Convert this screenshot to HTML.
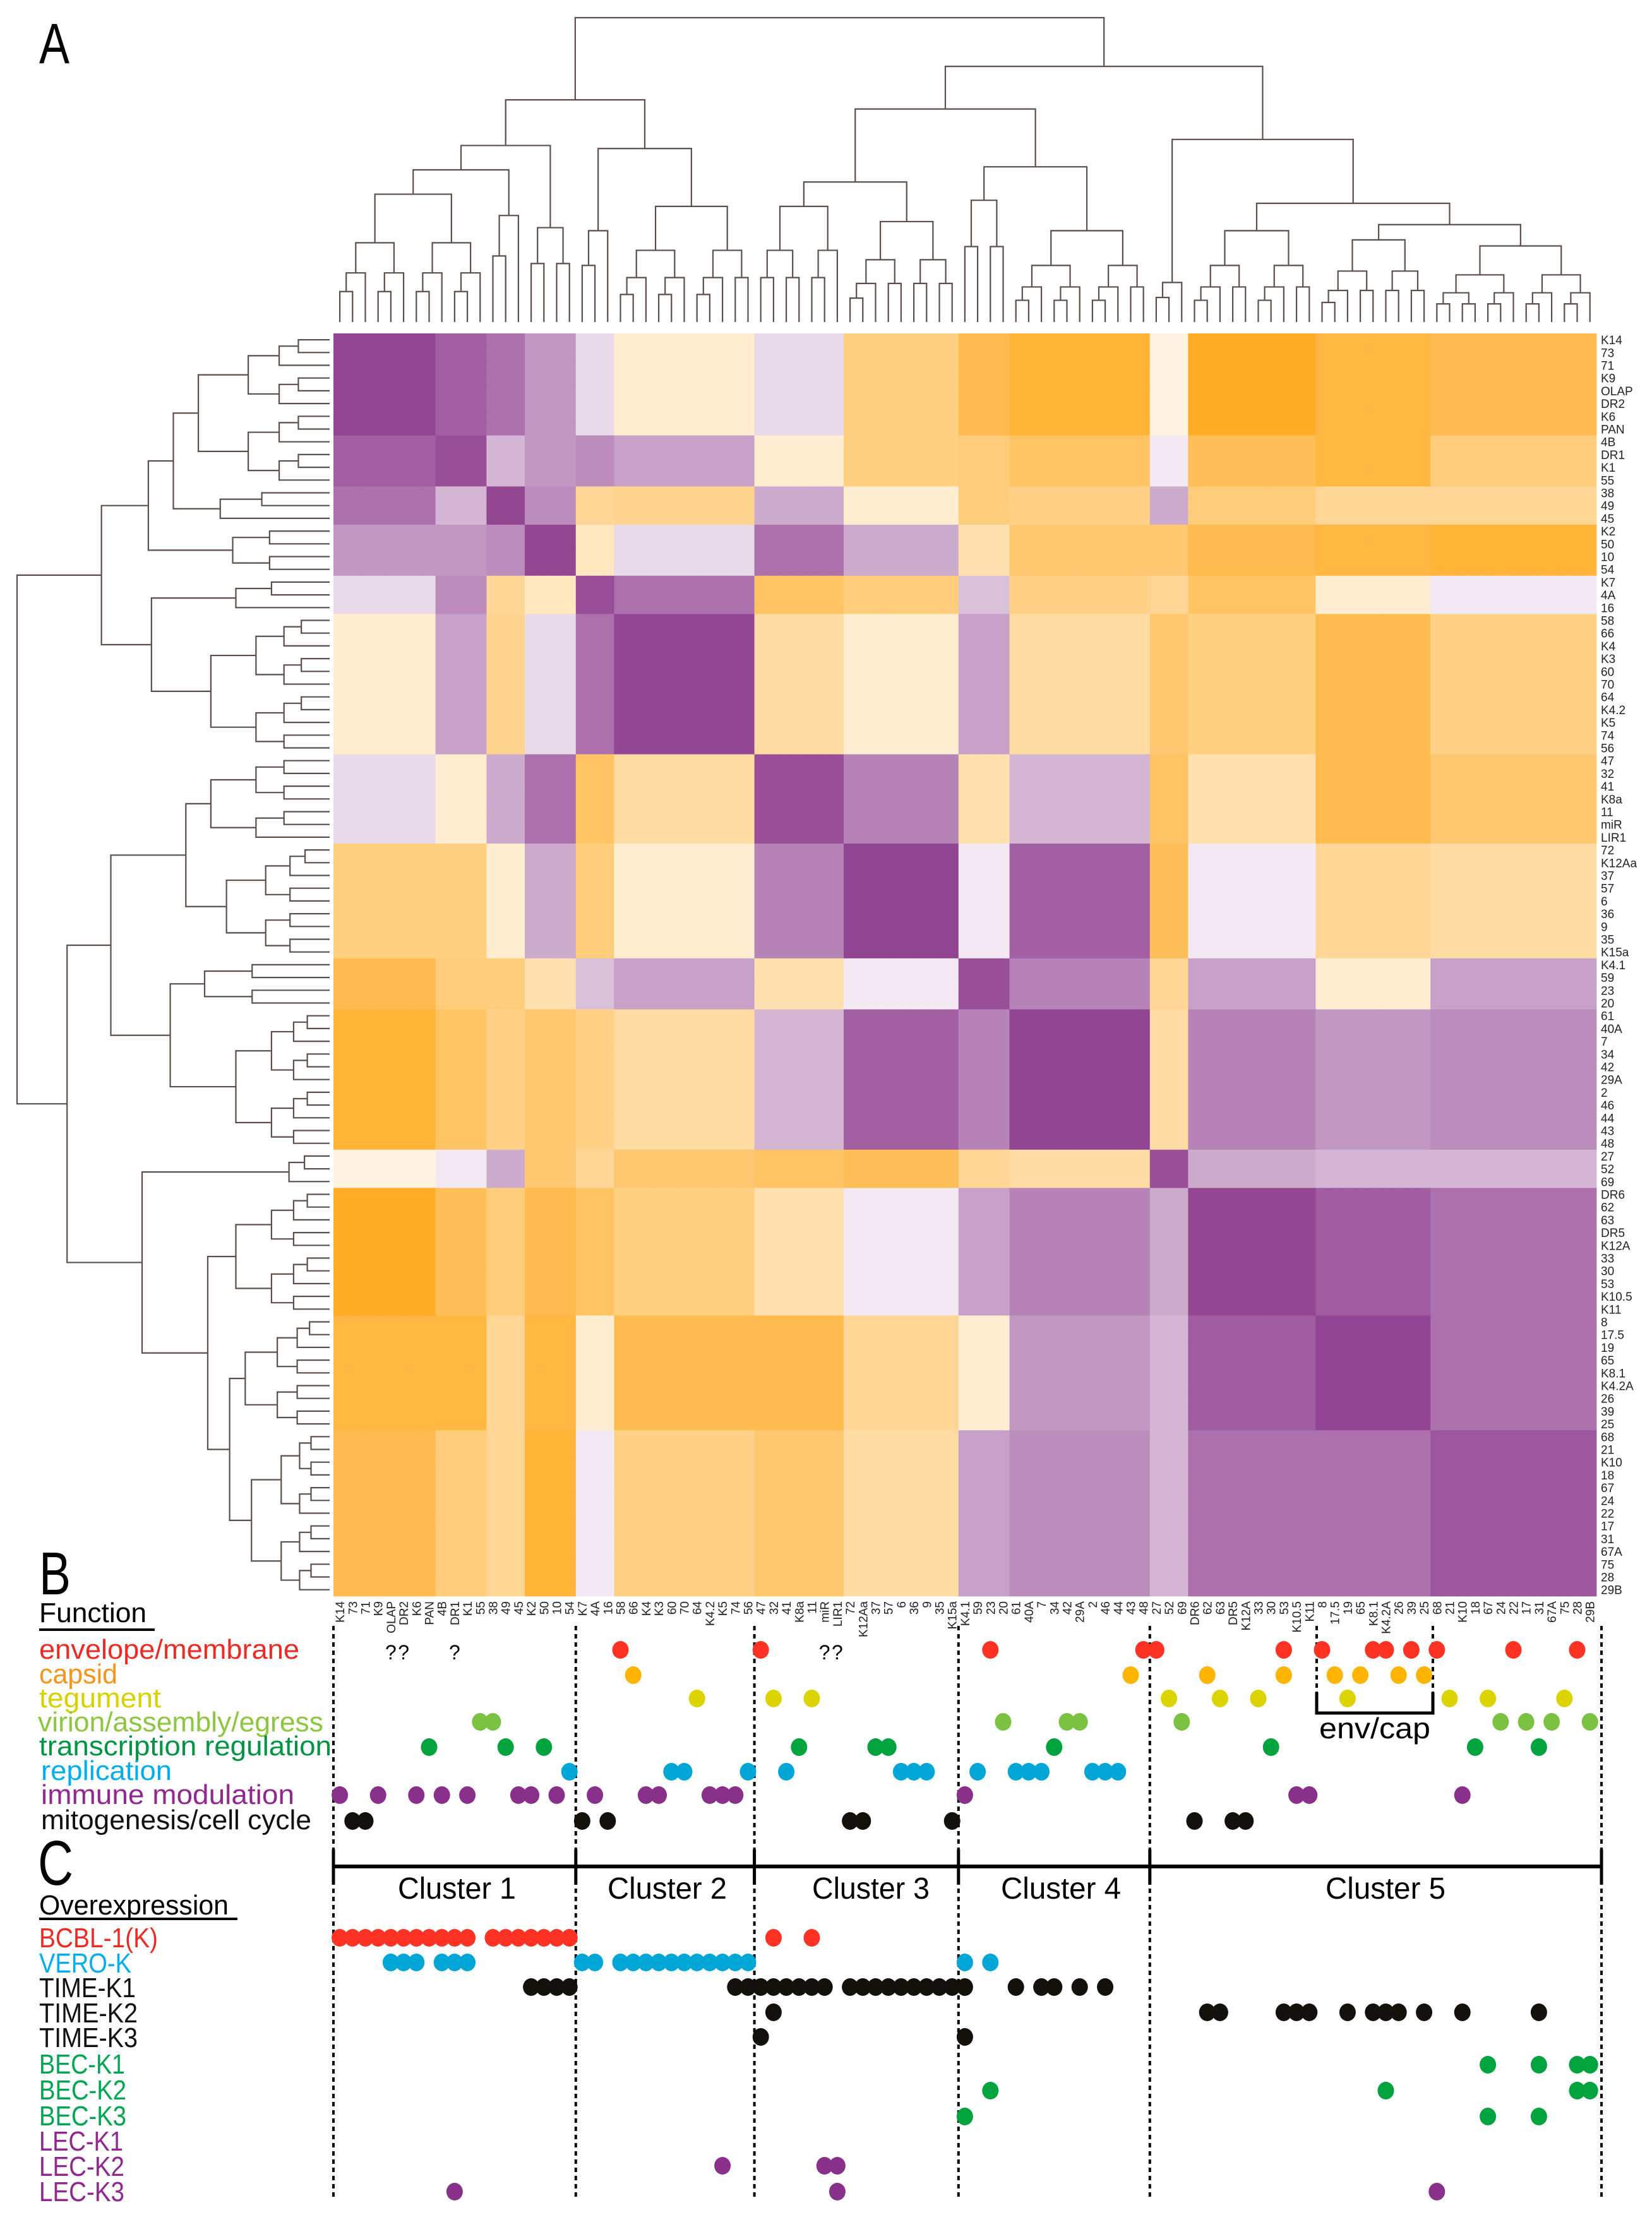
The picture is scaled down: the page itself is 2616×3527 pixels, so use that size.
<!DOCTYPE html>
<html><head><meta charset="utf-8"><title>KSHV gene correlation heatmap</title>
<style>
html,body{margin:0;padding:0;background:#fff;}
svg{display:block;}
text{font-family:"Liberation Sans",Arial,sans-serif;}
.nar{font-family:"Liberation Sans Narrow","Liberation Sans",sans-serif;}
</style></head>
<body>
<svg id="fig" xmlns="http://www.w3.org/2000/svg" width="2616" height="3527" viewBox="0 0 2616 3527">
  <rect x="0" y="0" width="2616" height="3527" fill="#fff"/>
  <text x="62" y="100" font-size="90" textLength="48" lengthAdjust="spacingAndGlyphs" class="nar">A</text>
  <g id="topDendro"></g>
  <g id="leftDendro"></g>
  <g id="heat"></g>
  <g id="rowLabels"></g>
  <g id="colLabels"></g>

  <text x="62" y="2525" font-size="96" textLength="50" lengthAdjust="spacingAndGlyphs" class="nar">B</text>
  <text x="62" y="2569" font-size="44" textLength="170" lengthAdjust="spacingAndGlyphs" class="nar">Function</text>
  <rect x="62" y="2579" width="183" height="4" fill="#000"/>
  <g class="nar" font-size="44">
    <text x="62" y="2627" fill="#ee2a24" textLength="412" lengthAdjust="spacingAndGlyphs">envelope/membrane</text>
    <text x="62" y="2666" fill="#f7941d" textLength="124" lengthAdjust="spacingAndGlyphs">capsid</text>
    <text x="62" y="2704" fill="#d7d100" textLength="193" lengthAdjust="spacingAndGlyphs">tegument</text>
    <text x="60" y="2742" fill="#8dc63f" textLength="452" lengthAdjust="spacingAndGlyphs">virion/assembly/egress</text>
    <text x="62" y="2780" fill="#009444" textLength="463" lengthAdjust="spacingAndGlyphs">transcription regulation</text>
    <text x="65" y="2819" fill="#00aeef" textLength="207" lengthAdjust="spacingAndGlyphs">replication</text>
    <text x="65" y="2857" fill="#92278f" textLength="401" lengthAdjust="spacingAndGlyphs">immune modulation</text>
    <text x="65" y="2897" fill="#111" textLength="428" lengthAdjust="spacingAndGlyphs">mitogenesis/cell cycle</text>
  </g>

  <text x="60" y="2985" font-size="100" textLength="56" lengthAdjust="spacingAndGlyphs" class="nar">C</text>
  <text x="62" y="3032" font-size="44" textLength="300" lengthAdjust="spacingAndGlyphs" class="nar">Overexpression</text>
  <rect x="62" y="3037" width="314" height="4" fill="#000"/>
  <g class="nar" font-size="44">
    <text x="62" y="3084" fill="#ee2a24" textLength="188" lengthAdjust="spacingAndGlyphs">BCBL-1(K)</text>
    <text x="62" y="3124" fill="#00aeef" textLength="146" lengthAdjust="spacingAndGlyphs">VERO-K</text>
    <text x="62" y="3163" fill="#111" textLength="153" lengthAdjust="spacingAndGlyphs">TIME-K1</text>
    <text x="62" y="3203" fill="#111" textLength="156" lengthAdjust="spacingAndGlyphs">TIME-K2</text>
    <text x="62" y="3242" fill="#111" textLength="156" lengthAdjust="spacingAndGlyphs">TIME-K3</text>
    <text x="62" y="3284" fill="#00a651" textLength="136" lengthAdjust="spacingAndGlyphs">BEC-K1</text>
    <text x="62" y="3325" fill="#00a651" textLength="138" lengthAdjust="spacingAndGlyphs">BEC-K2</text>
    <text x="62" y="3366" fill="#00a651" textLength="138" lengthAdjust="spacingAndGlyphs">BEC-K3</text>
    <text x="62" y="3406" fill="#92278f" textLength="133" lengthAdjust="spacingAndGlyphs">LEC-K1</text>
    <text x="62" y="3446" fill="#92278f" textLength="135" lengthAdjust="spacingAndGlyphs">LEC-K2</text>
    <text x="62" y="3486" fill="#92278f" textLength="135" lengthAdjust="spacingAndGlyphs">LEC-K3</text>
  </g>

  <g id="guides"></g>
  <g id="clusterAxis">
    <text x="630" y="3007" font-size="48" textLength="187" lengthAdjust="spacingAndGlyphs" class="nar">Cluster 1</text>
    <text x="962" y="3007" font-size="48" textLength="189" lengthAdjust="spacingAndGlyphs" class="nar">Cluster 2</text>
    <text x="1286" y="3007" font-size="48" textLength="186" lengthAdjust="spacingAndGlyphs" class="nar">Cluster 3</text>
    <text x="1585" y="3007" font-size="48" textLength="190" lengthAdjust="spacingAndGlyphs" class="nar">Cluster 4</text>
    <text x="2099" y="3007" font-size="48" textLength="190" lengthAdjust="spacingAndGlyphs" class="nar">Cluster 5</text>
  </g>
  <g>
    <line x1="2085" y1="2575" x2="2085" y2="2680" stroke="#000" stroke-width="4" stroke-dasharray="7,6"/>
    <line x1="2269" y1="2575" x2="2269" y2="2680" stroke="#000" stroke-width="4" stroke-dasharray="7,6"/>
    <polyline points="2085,2680 2085,2713 2269,2713 2269,2680" fill="none" stroke="#000" stroke-width="5"/>
    <text x="2089" y="2753" font-size="46" textLength="176" lengthAdjust="spacingAndGlyphs" class="nar">env/cap</text>
  </g>
  <g id="qmarks" class="nar" font-size="32"></g>
  <g id="funcDots"></g>
  <g id="overDots"></g>
</svg>
<script>
// ---------- data ----------
const genes = ["K14","73","71","K9","OLAP","DR2","K6","PAN","4B","DR1","K1","55","38","49","45","K2","50","10","54","K7","4A","16","58","66","K4","K3","60","70","64","K4.2","K5","74","56","47","32","41","K8a","11","miR","LIR1","72","K12Aa","37","57","6","36","9","35","K15a","K4.1","59","23","20","61","40A","7","34","42","29A","2","46","44","43","48","27","52","69","DR6","62","63","DR5","K12A","33","30","53","K10.5","K11","8","17.5","19","65","K8.1","K4.2A","26","39","25","68","21","K10","18","67","24","22","17","31","67A","75","28","29B"];
const groupStarts = [0,8,12,15,19,22,33,40,49,53,64,67,77,86];
const blockVals = [
 [0.85,0.7,0.6,0.4,0.1,-0.1,0.1,-0.35,-0.6,-0.6,0.0,-0.75,-0.6,-0.6],
 [0.7,0.8,0.3,0.5,0.4,0.35,-0.2,-0.35,-0.5,-0.5,-0.1,-0.6,-0.6,-0.4],
 [0.6,0.2,0.85,0.4,-0.3,-0.3,0.3,-0.1,-0.4,-0.3,0.3,-0.3,-0.2,-0.3],
 [0.4,0.3,0.5,0.85,-0.2,0.1,0.6,0.3,-0.2,-0.4,-0.4,-0.6,-0.6,-0.7],
 [0.1,0.5,-0.3,-0.1,0.8,0.6,-0.5,-0.4,0.2,-0.4,-0.2,-0.4,0.0,0.1],
 [-0.1,0.35,-0.35,0.1,0.6,0.85,-0.3,-0.1,0.3,-0.2,-0.4,-0.35,-0.6,-0.3],
 [0.1,0.0,0.3,0.6,-0.5,-0.2,0.8,0.5,-0.2,0.2,-0.4,-0.3,-0.6,-0.5],
 [-0.4,-0.4,-0.1,0.3,-0.4,-0.1,0.5,0.9,0.0,0.7,-0.5,-0.1,-0.3,-0.2],
 [-0.6,-0.3,-0.4,-0.2,0.2,0.4,-0.2,0.1,0.8,0.4,-0.4,0.3,-0.1,0.4],
 [-0.8,-0.5,-0.4,-0.5,-0.3,-0.3,0.3,0.7,0.6,0.9,-0.3,0.5,0.4,0.4],
 [-0.1,0.2,0.3,-0.5,-0.4,-0.5,-0.6,-0.6,-0.2,-0.2,0.8,0.3,0.2,0.2],
 [-0.8,-0.5,-0.5,-0.6,-0.6,-0.4,-0.1,0.2,0.4,0.5,0.3,0.85,0.75,0.6],
 [-0.7,-0.7,-0.4,-0.7,-0.2,-0.6,-0.6,-0.3,-0.1,0.4,0.3,0.7,0.95,0.6],
 [-0.6,-0.4,-0.3,-0.7,0.0,-0.4,-0.4,-0.3,0.3,0.5,0.3,0.6,0.6,0.75]
];
// dendrogram topology: [height, left, right]; {r:[a,b],h} = leaf range subtree
const dendroTree = [1.0,
  [0.73, [0.58, [0.50, {r:[0,11],h:0.42}, {r:[12,14],h:0.35}], {r:[15,18],h:0.31}],
         [0.57, {r:[19,21],h:0.30}, {r:[22,32],h:0.38}]],
  [0.84, [0.70, [0.46, {r:[33,39],h:0.38}, {r:[40,48],h:0.33}],
                [0.51, {r:[49,52],h:0.40}, {r:[53,63],h:0.30}]],
         [0.60, {r:[64,66],h:0.13},
                [0.39, {r:[67,76],h:0.30}, [0.32, {r:[77,85],h:0.27}, {r:[86,98],h:0.25}]]]]
];
// function annotations (gene column indices)
const fnEnvelope = [22,33,51,63,64,74,77,81,82,84,86,92,97];
const fnCapsid = [23,62,68,74,78,80,83,85];
const fnTegument = [28,34,37,65,69,72,79,87,90,96];
const fnVirion = [11,12,52,57,58,66,91,93,95,98];
const fnTranscription = [7,13,16,36,42,43,56,73,89,94];
const fnReplication = [18,26,27,32,35,44,45,46,50,53,54,55,59,60,61];
const fnImmune = [0,3,6,8,10,14,15,17,20,24,25,29,30,31,49,75,76,88];
const fnMitogenesis = [1,2,19,21,40,41,48,67,70,71];
const uncertain = [4,5,9,38,39];
// overexpression
const oxBCBL = [0,1,2,3,4,5,6,7,8,9,10,12,13,14,15,16,17,18,34,37];
const oxVERO = [4,5,6,8,9,10,19,20,22,23,24,25,26,27,28,29,30,31,32,49,51];
const oxTIME1 = [15,16,17,18,31,32,33,34,35,36,37,38,40,41,42,43,44,45,46,47,48,49,53,55,56,58,60];
const oxTIME2 = [34,68,69,74,75,76,79,81,82,83,85,88,94];
const oxTIME3 = [33,49];
const oxBEC1 = [90,94,97,98];
const oxBEC2 = [51,82,97,98];
const oxBEC3 = [49,90,94];
const oxLEC1 = [];
const oxLEC2 = [30,38,39];
const oxLEC3 = [9,39,86];
const clusterBounds = [0,19,33,49,64,99];

// ---------- layout ----------
const NS = "http://www.w3.org/2000/svg";
const X0 = 528, Y0 = 528, CW = 20.2;
const colX = i => X0 + CW*(i+0.5);
const rowY = i => Y0 + CW*(i+0.5);
function mk(tag, attrs, parent){ const e=document.createElementNS(NS,tag); for(const k in attrs) e.setAttribute(k,attrs[k]); parent.appendChild(e); return e; }

function grp(i){ let g=0; for(let k=0;k<groupStarts.length;k++) if(i>=groupStarts[k]) g=k; return g; }
function val(i,j){ return (blockVals[grp(i)][grp(j)]+blockVals[grp(j)][grp(i)])/2; }
function color(v){
  let c;
  if(v>=0){ c=[145,68,145]; } else { c=[255,165,20]; v=-v; }
  let t = Math.min(1, Math.pow(Math.min(1, v*1.15), 0.75));
  const r=Math.round(255+(c[0]-255)*t), g=Math.round(255+(c[1]-255)*t), b=Math.round(255+(c[2]-255)*t);
  return `rgb(${r},${g},${b})`;
}

// heatmap
const heat = document.getElementById('heat');
for(let i=0;i<genes.length;i++){
  for(let j=0;j<genes.length;j++){
    const r = mk('rect',{x:(X0+CW*j).toFixed(2), y:(Y0+CW*i).toFixed(2), width:(CW+0.6).toFixed(2), height:(CW+0.6).toFixed(2), fill:color(val(i,j))}, heat);
    
    
  }
}

// labels
const rowL = document.getElementById('rowLabels');
const colL = document.getElementById('colLabels');
genes.forEach((g,i)=>{
  const t = mk('text',{x:2535, y:rowY(i)+7, 'font-size':19, fill:'#222'}, rowL);
  t.textContent = g;
  
  
  const c = mk('text',{transform:`translate(${colX(i)+7},2536) rotate(-90)`, 'text-anchor':'end', 'font-size':19, fill:'#222'}, colL);
  c.textContent = g;
  
  
});

// dendrograms
function expand(n){
  if(typeof n==='number') return n;
  if(Array.isArray(n)) return [n[0], expand(n[1]), expand(n[2])];
  return rangeTree(n.r[0], n.r[1], n.h);
}
function rangeTree(a,b,h){
  if(a===b) return a;
  const m = Math.floor((a+b)/2);
  return [h, rangeTree(a,m,h*0.62), rangeTree(m+1,b,h*0.62)];
}
const tree = expand(dendroTree);
function drawDendro(node, g, orient){
  if(typeof node==='number') return {p:node+0.5, h:0};
  const l = drawDendro(node[1], g, orient), r = drawDendro(node[2], g, orient);
  const h = node[0];
  let pts;
  if(orient==='top'){
    const yf = hh => 510 - hh*482, xf = p => X0 + CW*p;
    pts = `${xf(l.p)},${yf(l.h)} ${xf(l.p)},${yf(h)} ${xf(r.p)},${yf(h)} ${xf(r.p)},${yf(r.h)}`;
  } else {
    const xf = hh => 522 - hh*495, yf = p => Y0 + CW*p;
    pts = `${xf(l.h)},${yf(l.p)} ${xf(h)},${yf(l.p)} ${xf(h)},${yf(r.p)} ${xf(r.h)},${yf(r.p)}`;
  }
  const pl = mk('polyline',{points:pts, fill:'none', stroke:'#5e4e48', 'stroke-width':2.2}, g);
  
  
  return {p:(l.p+r.p)/2, h:h};
}
drawDendro(tree, document.getElementById('topDendro'), 'top');
drawDendro(tree, document.getElementById('leftDendro'), 'left');

// guides
const guides = document.getElementById('guides');
const gx = clusterBounds.map(k => k===99 ? 2536 : X0 + CW*k);
gx.forEach(x=>{
  const l = mk('line',{x1:x, y1:2575, x2:x, y2:3483, stroke:'#000', 'stroke-width':4, 'stroke-dasharray':'7,6'}, guides);
  
  
  const t = mk('line',{x1:x, y1:2929, x2:x, y2:2985, stroke:'#000', 'stroke-width':5}, guides);
  
  
});
const axis = mk('line',{x1:gx[0], y1:2956, x2:gx[gx.length-1], y2:2956, stroke:'#000', 'stroke-width':6}, guides);



// question marks
const qg = document.getElementById('qmarks');
uncertain.forEach(i=>{
  const t = mk('text',{x:colX(i), y:2628, 'text-anchor':'middle'}, qg);
  t.textContent = '?';
  
  
});

// dots
function dots(list, y, col, g, name){
  list.forEach(i=>{
    const c = mk('ellipse',{cx:colX(i), cy:y, rx:13, ry:14, fill:col}, g);
    
    
  });
}
const fd = document.getElementById('funcDots');
dots(fnEnvelope, 2613, '#ff3324', fd, 'envelope-dot');
dots(fnCapsid, 2653, '#ffb400', fd, 'capsid-dot');
dots(fnTegument, 2690, '#dcd400', fd, 'tegument-dot');
dots(fnVirion, 2727, '#7cc242', fd, 'virion-dot');
dots(fnTranscription, 2767, '#00a33e', fd, 'transcription-dot');
dots(fnReplication, 2806, '#00a6d6', fd, 'replication-dot');
dots(fnImmune, 2843, '#88308a', fd, 'immune-dot');
dots(fnMitogenesis, 2884, '#14110d', fd, 'mitogenesis-dot');
const od = document.getElementById('overDots');
dots(oxBCBL, 3069, '#ff3324', od, 'bcbl-dot');
dots(oxVERO, 3108, '#00a6d6', od, 'vero-dot');
dots(oxTIME1, 3147, '#14110d', od, 'time-k1-dot');
dots(oxTIME2, 3187, '#14110d', od, 'time-k2-dot');
dots(oxTIME3, 3226, '#14110d', od, 'time-k3-dot');
dots(oxBEC1, 3270, '#00a33e', od, 'bec-k1-dot');
dots(oxBEC2, 3311, '#00a33e', od, 'bec-k2-dot');
dots(oxBEC3, 3352, '#00a33e', od, 'bec-k3-dot');
dots(oxLEC1, 3390, '#88308a', od, 'lec-k1-dot');
dots(oxLEC2, 3430, '#88308a', od, 'lec-k2-dot');
dots(oxLEC3, 3471, '#88308a', od, 'lec-k3-dot');
</script>
</body></html>
